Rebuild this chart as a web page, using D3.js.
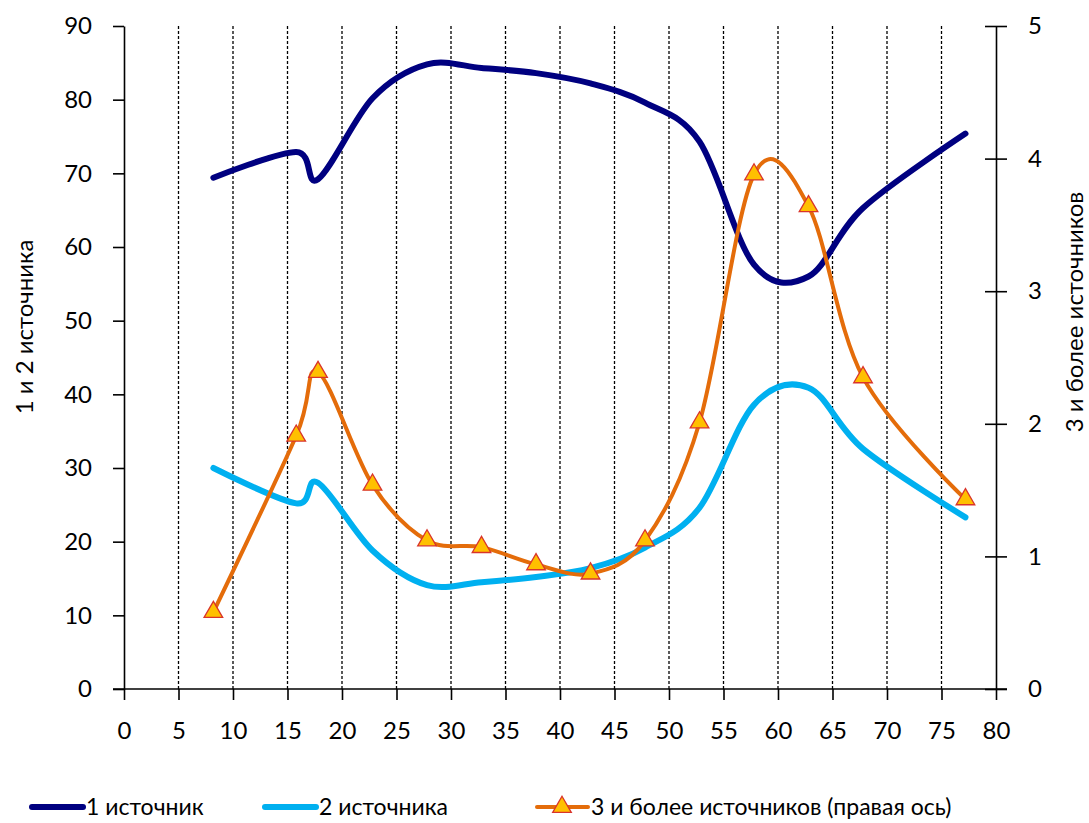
<!DOCTYPE html>
<html>
<head>
<meta charset="utf-8">
<script src="https://cdn.jsdelivr.net/npm/d3@7"></script>
<style>
  body { margin: 0; background: #fff; }
  text { font-family: Lato, "Open Sans", sans-serif; fill: #000; }
</style>
</head>
<body>
<script>
const w = 1089
const h = 823

// x positions of the points (age)
const ages = [8.2, 15.8, 17.8, 22.8, 27.8, 32.8, 37.8, 42.8, 47.8, 52.8, 57.8, 62.8, 67.8, 77.2]
const oneSource = [69.4, 72.9, 69.2, 80.2, 84.8, 84.3, 83.6, 82.2, 79.6, 74.3, 57.6, 56.0, 65.3, 75.4]
const twoSources = [30.0, 25.2, 28.0, 18.8, 14.1, 14.5, 15.2, 16.4, 19.2, 24.6, 38.6, 40.9, 32.6, 23.3]
const threeMore = [0.58, 1.91, 2.39, 1.54, 1.12, 1.07, 0.94, 0.87, 1.12, 2.01, 3.88, 3.64, 2.35, 1.43]

const xTicks = d3.range(0, 81, 5)
const leftTicks = d3.range(0, 91, 10)
const rightTicks = [0, 1, 2, 3, 4, 5]
const gridTicks = d3.range(5, 76, 5)

const legendNames = ['1 источник', '2 источника', '3 и более источников (правая ось)']
const leftTitle = '1 и 2 источника'
const rightTitle = '3 и более источников'

const x = d3.scaleLinear().domain([0, 80]).range([124, 996])
const yL = d3.scaleLinear().domain([0, 90]).range([689, 26])
const yR = d3.scaleLinear().domain([0, 5]).range([689, 26])

const svg = d3.select('body').append('svg')
    .attr('width', w)
    .attr('height', h)

// dashed vertical grid
svg.selectAll('line.grid')
    .data(gridTicks)
    .enter()
    .append('line')
    .attr('class', 'grid')
    .attr('x1', d => x(d)).attr('x2', d => x(d))
    .attr('y1', yL(90)).attr('y2', yL(0))
    .style('stroke', '#000')
    .style('stroke-width', 1.3)
    .style('stroke-dasharray', '3,2')

// axes
const axisFont = '24px'

const gx = svg.append('g')
    .attr('transform', 'translate(0,' + yL(0) + ')')
    .call(d3.axisBottom(x).tickValues(xTicks).tickSize(11).tickSizeOuter(0).tickPadding(22))
gx.select('.domain').attr('d', 'M113,0H1007')

const gl = svg.append('g')
    .attr('transform', 'translate(' + x(0) + ',0)')
    .call(d3.axisLeft(yL).tickValues(leftTicks).tickSize(11).tickSizeOuter(0).tickPadding(21))

const gr = svg.append('g')
    .attr('transform', 'translate(' + x(80) + ',0)')
    .call(d3.axisRight(yR).tickValues(rightTicks).tickFormat(d3.format('d')).tickSize(11).tickSizeOuter(0).tickPadding(21))
gr.selectAll('.tick line').attr('x1', -11)

svg.selectAll('.domain, .tick line')
    .style('stroke', '#000')
    .style('stroke-width', 1.6)
svg.selectAll('.tick text')
    .style('font-size', axisFont)
    .style('font-family', 'Lato, sans-serif')
    .attr('fill', '#000')

// axis titles
svg.append('text')
    .attr('transform', 'translate(33,327) rotate(-90)')
    .attr('text-anchor', 'middle')
    .style('font-size', '24px')
    .text(leftTitle)

svg.append('text')
    .attr('transform', 'translate(1083,312) rotate(-90)')
    .attr('text-anchor', 'middle')
    .style('font-size', '24px')
    .text(rightTitle)

// lines
const curve = d3.curveCatmullRom.alpha(0)

const lineL = d3.line()
    .x(d => x(d[0]))
    .y(d => yL(d[1]))
    .curve(curve)

const lineR = d3.line()
    .x(d => x(d[0]))
    .y(d => yR(d[1]))
    .curve(curve)

svg.append('path')
    .datum(d3.zip(ages, oneSource))
    .attr('d', lineL)
    .style('fill', 'none')
    .style('stroke', '#000080')
    .style('stroke-width', 6)
    .style('stroke-linecap', 'round')

svg.append('path')
    .datum(d3.zip(ages, twoSources))
    .attr('d', lineL)
    .style('fill', 'none')
    .style('stroke', '#00B0F0')
    .style('stroke-width', 6)
    .style('stroke-linecap', 'round')

svg.append('path')
    .datum(d3.zip(ages, threeMore))
    .attr('d', lineR)
    .style('fill', 'none')
    .style('stroke', '#E46C0A')
    .style('stroke-width', 4)
    .style('stroke-linecap', 'round')

const tri = d3.symbol().type(d3.symbolTriangle).size(150)

svg.selectAll('path.marker')
    .data(d3.zip(ages, threeMore))
    .enter()
    .append('path')
    .attr('class', 'marker')
    .attr('d', tri)
    .attr('transform', d => 'translate(' + x(d[0]) + ',' + yR(d[1]) + ')')
    .style('fill', '#FFC000')
    .style('stroke', '#D9342B')
    .style('stroke-width', 1.3)

// legend
const legendX = [32, 265, 537]
const legendColors = ['#000080', '#00B0F0', '#E46C0A']
const legendWidths = [6, 6, 4]

const leg = svg.selectAll('g.leg')
    .data(legendNames)
    .enter()
    .append('g')
    .attr('class', 'leg')
    .attr('transform', (d, i) => 'translate(' + legendX[i] + ',807)')

leg.append('line')
    .attr('x1', 0).attr('x2', 51)
    .attr('y1', 0).attr('y2', 0)
    .style('stroke', (d, i) => legendColors[i])
    .style('stroke-width', (d, i) => legendWidths[i])
    .style('stroke-linecap', 'round')

leg.filter((d, i) => i === 2)
    .append('path')
    .attr('d', tri)
    .attr('transform', 'translate(25,0)')
    .style('fill', '#FFC000')
    .style('stroke', '#D9342B')
    .style('stroke-width', 1.3)

leg.append('text')
    .attr('x', 54)
    .attr('y', 8)
    .style('font-size', '23px')
    .text(d => d)
</script>
</body>
</html>
